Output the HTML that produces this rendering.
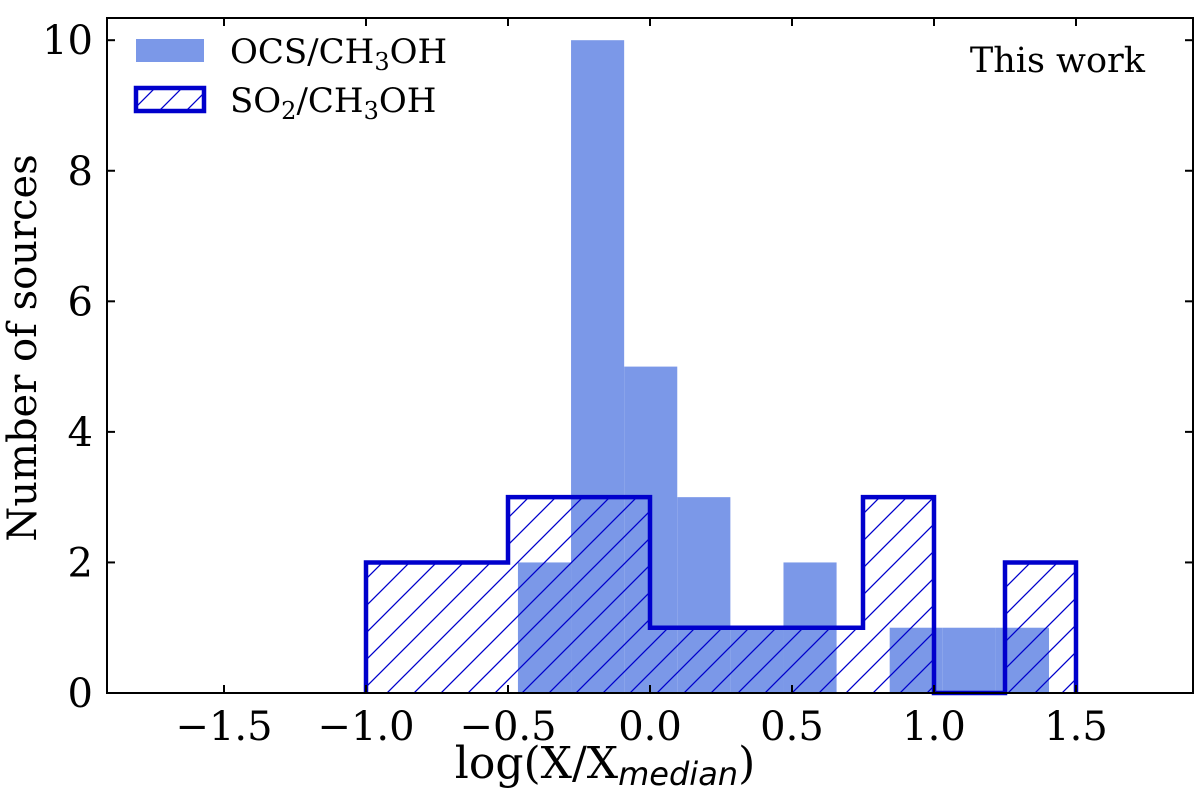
<!DOCTYPE html>
<html><head><meta charset="utf-8"><style>
body{margin:0;background:#fff;}
svg{display:block;font-family:"DejaVu Serif","Liberation Serif",serif;}
</style></head><body>
<svg id="chart" width="1200" height="792">
<defs><pattern id="hatch" patternUnits="userSpaceOnUse" width="27" height="27">
<path d="M-3,30 L30,-3 M-30,30 L30,-30 M0,54 L54,0" stroke="#0000cc" stroke-width="1.3"/></pattern></defs>
<g id="plot"></g>
</svg>
<script>
const ocsEdges=[-0.465,-0.278,-0.091,0.096,0.283,0.470,0.657,0.844,1.031,1.218,1.405];
const ocsCounts=[2,10,5,3,1,2,0,1,1,1];
const so2Edges=[-1.0,-0.75,-0.5,-0.25,0.0,0.25,0.5,0.75,1.0,1.25,1.5];
const so2Counts=[2,2,3,3,1,1,1,3,0,2];
const xTicks=[-1.5,-1.0,-0.5,0.0,0.5,1.0,1.5];
const yTicks=[0,2,4,6,8,10];
const L=107,R=1193,T=18,B=693,xmin=-1.912,xmax=1.912,ymax=10.34;
const X=v=>L+(v-xmin)/(xmax-xmin)*(R-L);
const Y=v=>B-v/ymax*(B-T);
const g=document.getElementById('plot');const NS='http://www.w3.org/2000/svg';
function mk(t,a){const e=document.createElementNS(NS,t);for(const k in a)e.setAttribute(k,a[k]);g.appendChild(e);return e;}
ocsCounts.forEach((c,i)=>{if(!c)return;const e=mk('rect',{x:X(ocsEdges[i]),y:Y(c),width:X(ocsEdges[i+1])-X(ocsEdges[i]),height:B-Y(c),fill:'#7b98e8'});

});
let d='M'+X(so2Edges[0])+','+B;
so2Counts.forEach((c,i)=>{d+=' L'+X(so2Edges[i])+','+Y(c)+' L'+X(so2Edges[i+1])+','+Y(c);});
d+=' L'+X(so2Edges[so2Edges.length-1])+','+B;
const f=mk('path',{d:d+' Z',fill:'url(#hatch)',stroke:'none'});


const s=mk('path',{d:d,fill:'none',stroke:'#0000cc','stroke-width':4.5});


const fr=mk('rect',{x:L,y:T,width:R-L,height:B-T,fill:'none',stroke:'#000','stroke-width':2});


xTicks.forEach(v=>{const x=X(v);mk('line',{x1:x,x2:x,y1:B,y2:B-8,stroke:'#000','stroke-width':2});mk('line',{x1:x,x2:x,y1:T,y2:T+8,stroke:'#000','stroke-width':2});
const t=mk('text',{x:x,y:B+47,'font-size':40,'text-anchor':'middle'});t.textContent=(v<0?'\u2212':'')+Math.abs(v).toFixed(1);

});
yTicks.forEach(v=>{const y=Y(v);mk('line',{x1:L,x2:L+8,y1:y,y2:y,stroke:'#000','stroke-width':2});mk('line',{x1:R,x2:R-8,y1:y,y2:y,stroke:'#000','stroke-width':2});
const t=mk('text',{x:L-14,y:y+14,'font-size':40,'text-anchor':'end'});t.textContent=v;

});
</script>
<svg style="position:absolute;left:0;top:0" width="1200" height="792">
<g font-family="DejaVu Serif, Liberation Serif, serif" font-size="40">
<text x="605" y="778" text-anchor="middle" font-size="44">log(X/X<tspan font-family="DejaVu Sans, Liberation Sans, sans-serif" font-style="italic" font-size="32" dy="7">median</tspan><tspan dy="-7">)</tspan></text>
<text transform="translate(36,348) rotate(-90)" text-anchor="middle">Number of sources</text>
<text x="1145" y="72" text-anchor="end" font-size="35">This work</text>
<rect x="136" y="39" width="68" height="23" fill="#7b98e8"/>
<text x="230" y="63" font-size="34">OCS/CH<tspan font-size="24" dy="7">3</tspan><tspan dy="-7">OH</tspan></text>
<rect x="136" y="88" width="68" height="23" fill="url(#hatch)" stroke="#0000cc" stroke-width="4.5"/>
<text x="230" y="112" font-size="34">SO<tspan font-size="24" dy="7">2</tspan><tspan dy="-7">/CH</tspan><tspan font-size="24" dy="7">3</tspan><tspan dy="-7">OH</tspan></text>
</g></svg>
</body></html>
